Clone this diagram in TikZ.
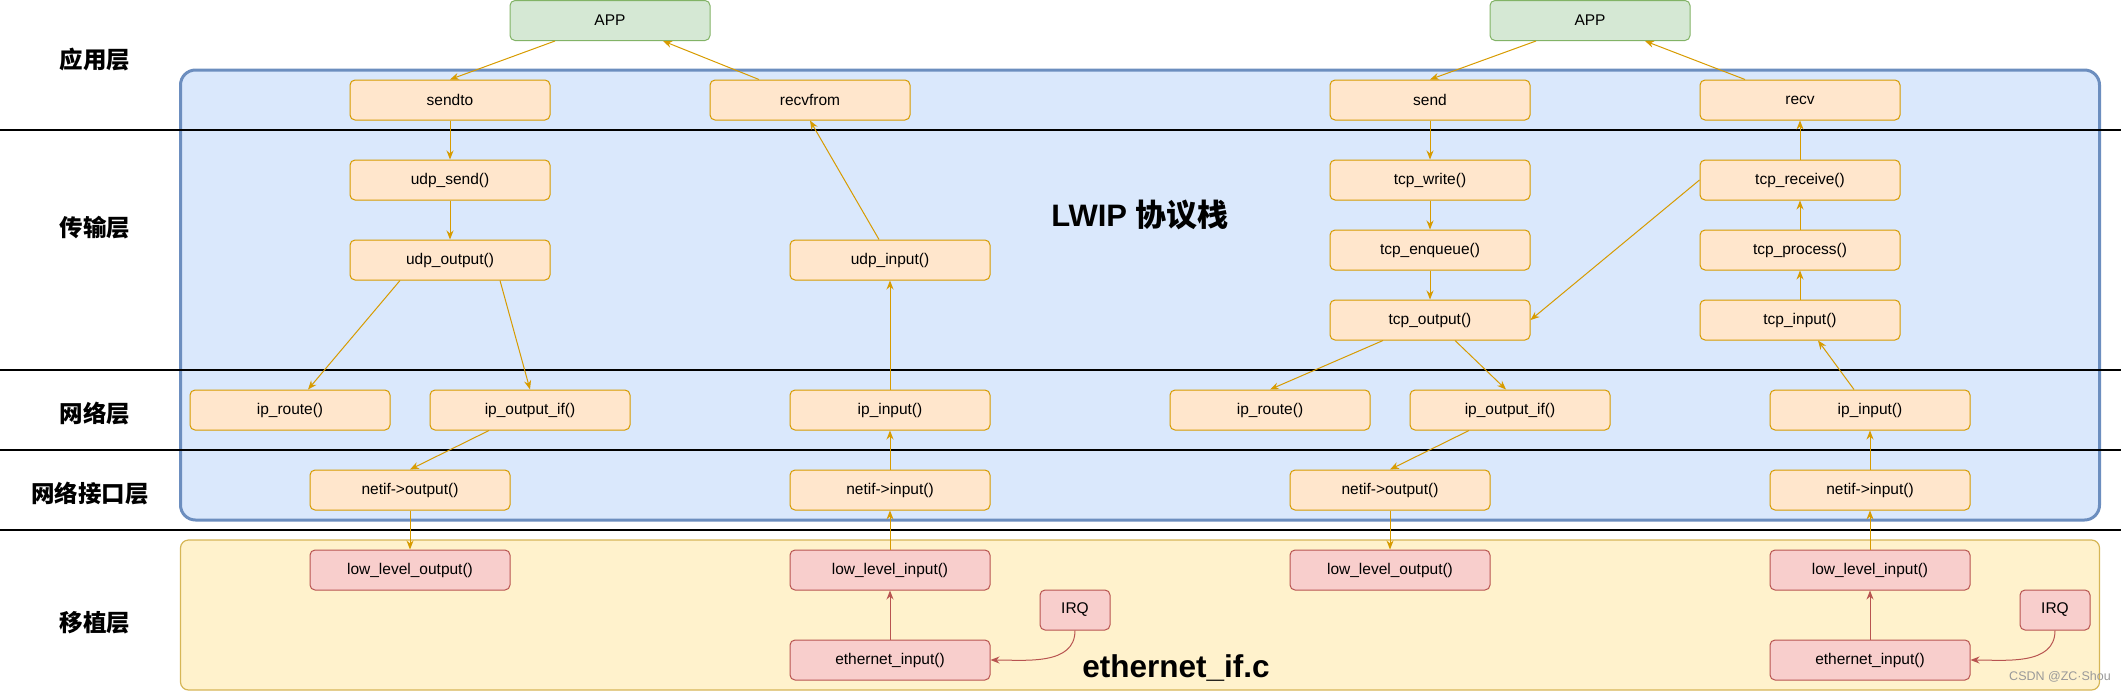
\documentclass[tikz,border=0pt]{standalone}
\usepackage{fontspec}
\setmainfont{Liberation Sans}
\newfontfamily\cjk{Noto Sans CJK SC}
\usetikzlibrary{arrows.meta}
\definecolor{appfill}{HTML}{D5E8D4}
\definecolor{appline}{HTML}{82B366}
\definecolor{procfill}{HTML}{FFE6CC}
\definecolor{procline}{HTML}{D79B00}
\definecolor{portfill}{HTML}{F8CECC}
\definecolor{portline}{HTML}{B85450}
\definecolor{stackfill}{HTML}{DAE8FC}
\definecolor{stackline}{HTML}{6C8EBF}
\definecolor{glufill}{HTML}{FFF2CC}
\definecolor{glueline}{HTML}{D6B656}
\newcommand{\boxfont}{\fontsize{15.5}{18}\selectfont}
\newcommand{\layerfont}{\cjk\bfseries\fontsize{23.5}{28}\selectfont}
\tikzstyle{app} = [rectangle, rounded corners=5pt, minimum width=200pt, minimum height=40pt, inner sep=0pt, text centered, draw=appline, fill=appfill, line width=1pt, font=\boxfont]
\tikzstyle{process} = [rectangle, rounded corners=5pt, minimum width=200pt, minimum height=40pt, inner sep=0pt, text centered, draw=procline, fill=procfill, line width=1pt, font=\boxfont]
\tikzstyle{port} = [rectangle, rounded corners=5pt, minimum width=200pt, minimum height=40pt, inner sep=0pt, text centered, draw=portline, fill=portfill, line width=1pt, font=\boxfont]
\tikzstyle{irq} = [port, minimum width=70pt]
\tikzstyle{layer} = [font=\layerfont]
\tikzstyle{arrow} = [line width=1pt, ->, >={Stealth[length=9pt,width=7pt]}, draw=procline]
\tikzstyle{redarrow} = [arrow, draw=portline]
\tikzstyle{sep} = [line width=1.3pt]

\begin{document}
\begin{tikzpicture}[x=1pt, y=-1pt, node distance=80pt]
		\useasboundingbox (0,0) rectangle (2123,691);
		% backgrounds
		\draw [fill=stackfill, draw=stackline, line width=3pt, rounded corners=15pt] (180.5,70) rectangle (2099.5,520);
		\draw [fill=glufill, draw=glueline, line width=1.2pt, rounded corners=8pt] (180.5,540) rectangle (2099.5,690);
		\draw [sep] (0,130) -- (2121,130);
		\draw [sep] (0,370) -- (2121,370);
		\draw [sep] (0,450) -- (2121,450);
		\draw [sep] (0,530) -- (2121,530);
		
		\node (lapp) [layer] at (95,60) {应用层};
		\node (ltrans) [layer] at (95,228) {传输层};
		\node (lnet) [layer] at (95,414) {网络层};
		\node (lnetif) [layer] at (90,494) {网络接口层};
		\node (lport) [layer] at (95,623) {移植层};
		\node (stack) at (1140,215) {\fontsize{31}{35}\selectfont\bfseries LWIP {\cjk 协议栈}};
		\node (glue) at (1176,668) {\fontsize{31.5}{35}\selectfont\bfseries ethernet\_if.c};
		\node (mark) [text=black!40] at (2060,677) {\fontsize{12.5}{14}\selectfont CSDN @ZC·Shou};
		
		% udp side
		\node (app1) [app] at (610,20.5) {APP};
		\node (sendto) [process] at (450,100) {sendto};
		\node (udpsend) [process, below of=sendto] {udp\_send()};
		\node (udpout) [process, below of=udpsend] {udp\_output()};
		\node (iproute1) [process] at (290,410) {ip\_route()};
		\node (ipout1) [process, right of=iproute1, xshift=160pt] {ip\_output\_if()};
		\node (netout1) [process, below of=ipout1, xshift=-120pt] {netif->output()};
		\node (llout1) [port, below of=netout1] {low\_level\_output()};
		\node (recvfrom) [process] at (810,100) {recvfrom};
		\node (udpin) [process] at (890,260) {udp\_input()};
		\node (ipin1) [process, below of=udpin, yshift=-70pt] {ip\_input()};
		\node (netin1) [process, below of=ipin1] {netif->input()};
		\node (llin1) [port, below of=netin1] {low\_level\_input()};
		\node (ethin1) [port, below of=llin1, yshift=-10pt] {ethernet\_input()};
		\node (irq1) [irq] at (1075,610) {IRQ};
		
		% tcp side
		\node (app2) [app] at (1590,20.5) {APP};
		\node (send) [process] at (1430,100) {send};
		\node (tcpwrite) [process, below of=send] {tcp\_write()};
		\node (tcpenq) [process, below of=tcpwrite, yshift=10pt] {tcp\_enqueue()};
		\node (tcpout) [process, below of=tcpenq, yshift=10pt] {tcp\_output()};
		\node (iproute2) [process] at (1270,410) {ip\_route()};
		\node (ipout2) [process, right of=iproute2, xshift=160pt] {ip\_output\_if()};
		\node (netout2) [process, below of=ipout2, xshift=-120pt] {netif->output()};
		\node (llout2) [port, below of=netout2] {low\_level\_output()};
		\node (recv) [process] at (1800,100) {recv};
		\node (tcprecv) [process, below of=recv] {tcp\_receive()};
		\node (tcpproc) [process, below of=tcprecv, yshift=10pt] {tcp\_process()};
		\node (tcpin) [process, below of=tcpproc, yshift=10pt] {tcp\_input()};
		\node (ipin2) [process] at (1870,410) {ip\_input()};
		\node (netin2) [process, below of=ipin2] {netif->input()};
		\node (llin2) [port, below of=netin2] {low\_level\_input()};
		\node (ethin2) [port, below of=llin2, yshift=-10pt] {ethernet\_input()};
		\node (irq2) [irq] at (2055,610) {IRQ};
		
		\draw [arrow] ([xshift=-55pt]app1.south) -- (sendto.north);
		\draw [arrow] ([xshift=-51pt]recvfrom.north) -- ([xshift=53pt]app1.south);
		\draw [arrow] (sendto) -- (udpsend);
		\draw [arrow] (udpsend) -- (udpout);
		\draw [arrow] ([xshift=-50pt]udpout.south) -- ([xshift=18pt]iproute1.north);
		\draw [arrow] ([xshift=50pt]udpout.south) -- (ipout1.north);
		\draw [arrow] ([xshift=-41pt]ipout1.south) -- (netout1.north);
		\draw [arrow] (netout1) -- (llout1);
		\draw [redarrow] (ethin1) -- (llin1);
		\draw [arrow] (llin1) -- (netin1);
		\draw [arrow] (netin1) -- (ipin1);
		\draw [arrow] (ipin1) -- (udpin);
		\draw [arrow] ([xshift=-11pt]udpin.north) -- (recvfrom.south);
		\draw [redarrow] (irq1.south) to [out=-90, in=0] (ethin1.east);
		
		\draw [arrow] ([xshift=-54pt]app2.south) -- (send.north);
		\draw [arrow] ([xshift=-55pt]recv.north) -- ([xshift=55pt]app2.south);
		\draw [arrow] (send) -- (tcpwrite);
		\draw [arrow] (tcpwrite) -- (tcpenq);
		\draw [arrow] (tcpenq) -- (tcpout);
		\draw [arrow] (tcprecv.west) -- (tcpout.east);
		\draw [arrow] ([xshift=-47pt]tcpout.south) -- (iproute2.north);
		\draw [arrow] ([xshift=25pt]tcpout.south) -- ([xshift=-4pt]ipout2.north);
		\draw [arrow] ([xshift=-41pt]ipout2.south) -- (netout2.north);
		\draw [arrow] (netout2) -- (llout2);
		\draw [redarrow] (ethin2) -- (llin2);
		\draw [arrow] (llin2) -- (netin2);
		\draw [arrow] (netin2) -- (ipin2);
		\draw [arrow] ([xshift=-16pt]ipin2.north) -- ([xshift=18pt]tcpin.south);
		\draw [arrow] (tcpin) -- (tcpproc);
		\draw [arrow] (tcpproc) -- (tcprecv);
		\draw [arrow] (tcprecv) -- (recv);
		\draw [redarrow] (irq2.south) to [out=-90, in=0] (ethin2.east);
\end{tikzpicture}
\end{document}
